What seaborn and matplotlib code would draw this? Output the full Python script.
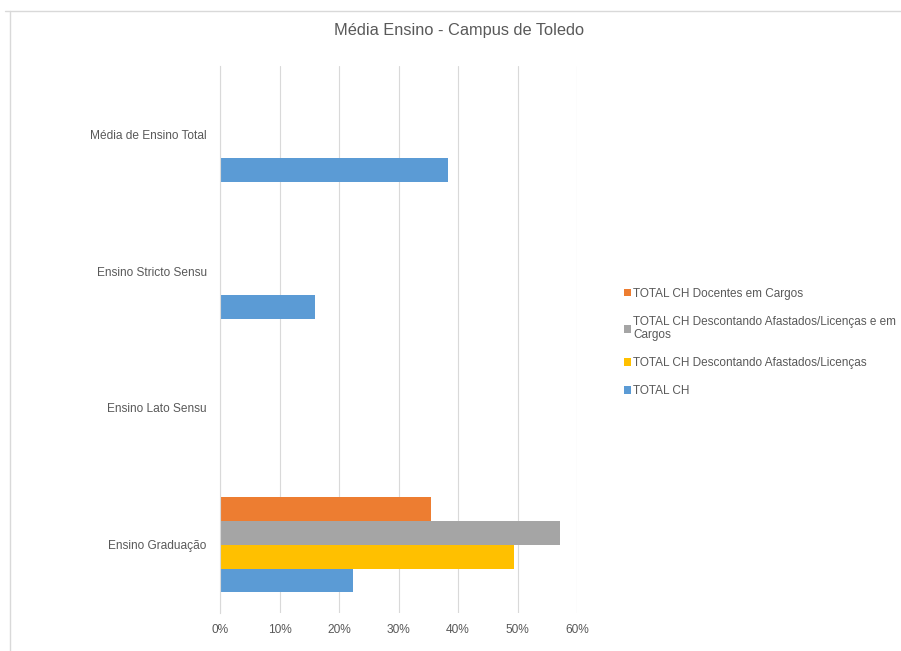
import numpy as np
import pandas as pd
import matplotlib
matplotlib.use("Agg")
import matplotlib.pyplot as plt
import seaborn as sns
from matplotlib.lines import Line2D
from matplotlib.ticker import FuncFormatter, FixedLocator

# =====================================================
# DADOS
# =====================================================

categorias = ["Média de Ensino Total", "Ensino Stricto Sensu",
              "Ensino Lato Sensu", "Ensino Graduação"]

series = ["TOTAL CH Docentes em Cargos",
          "TOTAL CH Descontando Afastados/Licenças e em Cargos",
          "TOTAL CH Descontando Afastados/Licenças",
          "TOTAL CH"]

docentes_cargos = [0, 0, 0, 35.5]
desc_afast_cargos = [0, 0, 0, 57.2]
desc_afast = [0, 0, 0, 49.4]
total_ch = [38.4, 16.0, 0, 22.4]

cores = ["#ED7D31", "#A5A5A5", "#FFC000", "#5B9BD5"]

valores = [docentes_cargos, desc_afast_cargos, desc_afast, total_ch]
linhas = []
for s, vals in zip(series, valores):
    for c, v in zip(categorias, vals):
        linhas.append({"categoria": c, "serie": s, "valor": v})
df = pd.DataFrame(linhas)

# =====================================================
# GRAFICO
# =====================================================

sns.set_style("white")
plt.rcParams["font.family"] = ["Liberation Sans", "DejaVu Sans"]

fig = plt.figure(figsize=(9.01, 6.51), dpi=100)
ax = fig.add_axes([220 / 901, 1 - 613 / 651, 357 / 901, (613 - 66) / 651])

sns.barplot(data=df, y="categoria", x="valor", hue="serie",
            order=categorias, hue_order=series, palette=cores,
            orient="h", width=0.70, errorbar=None, linewidth=0,
            saturation=1, ax=ax)

ax.set_xlim(0, 60)
ax.set_xticks(np.arange(0, 61, 10))
ax.xaxis.set_major_formatter(FuncFormatter(lambda x, p: f"{x:.0f}%"))
ax.set_ylim(len(categorias) - 0.5, -0.5)
ax.yaxis.set_minor_locator(FixedLocator(np.arange(-0.5, len(categorias), 1)))

ax.set_xlabel("")
ax.set_ylabel("")
ax.grid(axis="x", color="#D9D9D9", linewidth=0.8)
ax.set_axisbelow(True)
for lado in ["top", "right", "bottom"]:
    ax.spines[lado].set_visible(False)
ax.spines["left"].set_color("#D9D9D9")
ax.spines["left"].set_linewidth(0.8)

ax.tick_params(axis="x", length=0, labelsize=8.6, labelcolor="#595959", pad=8)
ax.tick_params(axis="y", which="major", length=0, labelsize=8.6,
               labelcolor="#595959", pad=9.5)
ax.tick_params(axis="y", which="minor", length=4, color="#D9D9D9", width=0.8)

# legenda
handles, labels = ax.get_legend_handles_labels()
ax.legend_.remove()
labels = [l.replace("e em Cargos", "e em\nCargos") for l in labels]
leg = fig.legend(handles, labels, loc="upper left",
                 bbox_to_anchor=(619 / 901, 1 - 283 / 651),
                 frameon=False, fontsize=8.5, handlelength=0.6,
                 handleheight=0.6, handletextpad=0.2, labelspacing=1.35,
                 borderaxespad=0)
for t in leg.get_texts():
    t.set_color("#595959")

# titulo
fig.text(459 / 901, 1 - 31 / 651, "Média Ensino - Campus de Toledo",
         ha="center", va="center", fontsize=11.8, color="#595959")

# borda
fig.add_artist(Line2D([5 / 901, 1], [1 - 11 / 651, 1 - 11 / 651],
                      transform=fig.transFigure, color="#D9D9D9", linewidth=1))
fig.add_artist(Line2D([10 / 901, 10 / 901], [0, 1 - 11 / 651],
                      transform=fig.transFigure, color="#D9D9D9", linewidth=1))

fig.savefig("out.png", dpi=100)
plt.close()
